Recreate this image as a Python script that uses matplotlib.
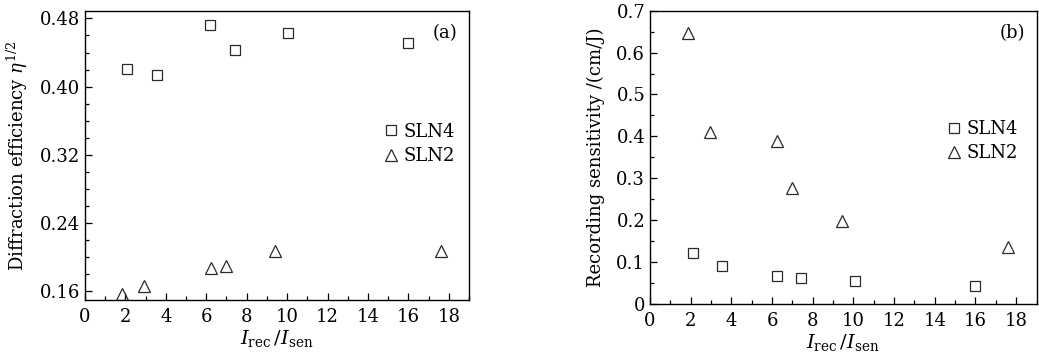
import matplotlib
matplotlib.use("Agg")
import matplotlib.pyplot as plt
from matplotlib.ticker import MultipleLocator

plt.rcParams['font.family'] = 'DejaVu Serif'
plt.rcParams['mathtext.fontset'] = 'dejavuserif'
plt.rcParams['font.size'] = 13

# (a) diffraction efficiency
sln4_x_a = [2.1, 3.55, 6.2, 7.4, 10.05, 15.97]
sln4_y_a = [0.4207, 0.4133, 0.4726, 0.4429, 0.4624, 0.4507]
sln2_x_a = [1.85, 2.92, 6.23, 6.97, 9.42, 17.62]
sln2_y_a = [0.157, 0.1666, 0.188, 0.1904, 0.208, 0.208]

# (b) recording sensitivity
sln4_x_b = [2.1, 3.55, 6.22, 7.4, 10.08, 15.99]
sln4_y_b = [0.121, 0.0915, 0.066, 0.062, 0.055, 0.044]
sln2_x_b = [1.85, 2.93, 6.25, 6.99, 9.43, 17.61]
sln2_y_b = [0.646, 0.41, 0.388, 0.278, 0.199, 0.135]

fig = plt.figure(figsize=(10.39, 3.59), dpi=100)
ax1 = fig.add_axes([0.0818, 0.1643, 0.3696, 0.8058])
ax2 = fig.add_axes([0.6256, 0.1532, 0.372, 0.817])

sq = dict(marker='s', ms=7.2, mfc='none', mec='#2a2a2a', mew=0.9, ls='none')
tr = dict(marker='^', ms=9.0, mfc='none', mec='#2a2a2a', mew=0.9, ls='none')

ax1.plot(sln4_x_a, sln4_y_a, label='SLN4', **sq)
ax1.plot(sln2_x_a, sln2_y_a, label='SLN2', **tr)
ax2.plot(sln4_x_b, sln4_y_b, label='SLN4', **sq)
ax2.plot(sln2_x_b, sln2_y_b, label='SLN2', **tr)

ax1.set_xlim(0, 19)
ax1.set_ylim(0.15, 0.489)
ax1.yaxis.set_minor_locator(MultipleLocator(0.02))
ax1.set_yticks([0.16, 0.24, 0.32, 0.40, 0.48])
ax1.set_yticklabels(['0.16', '0.24', '0.32', '0.40', '0.48'])
ax1.set_ylabel(r'Diffraction efficiency $\eta^{1/2}$', labelpad=7)

ax2.set_xlim(0, 19)
ax2.set_ylim(0, 0.7)
ax2.yaxis.set_minor_locator(MultipleLocator(0.05))
ax2.set_yticks([0, 0.1, 0.2, 0.3, 0.4, 0.5, 0.6, 0.7])
ax2.set_yticklabels(['0', '0.1', '0.2', '0.3', '0.4', '0.5', '0.6', '0.7'])
ax2.set_ylabel('Recording sensitivity /(cm/J)', labelpad=8)

legend_pos = {ax1: (0.982, 0.54), ax2: (0.97, 0.555)}
for ax, tag in [(ax1, '(a)'), (ax2, '(b)')]:
    ax.xaxis.set_major_locator(MultipleLocator(2))
    ax.xaxis.set_minor_locator(MultipleLocator(1))
    ax.tick_params(which='both', direction='in', top=False, right=False, labelsize=13)
    ax.tick_params(axis='x', which='major', pad=6)
    ax.tick_params(which='major', length=5, width=0.9)
    ax.tick_params(which='minor', length=3, width=0.9)
    for s in ax.spines.values():
        s.set_linewidth(1.0)
    ax.set_xlabel(r'$I_{\rm rec}\,/I_{\rm sen}$', fontsize=14, labelpad=1)
    ax.text(0.97, 0.955, tag, transform=ax.transAxes, ha='right', va='top')
    ax.legend(loc='center right', bbox_to_anchor=legend_pos[ax], frameon=False,
              handlelength=0.8, handletextpad=0.3, labelspacing=0.35, borderaxespad=0.0)

fig.savefig('out.png', dpi=100)
